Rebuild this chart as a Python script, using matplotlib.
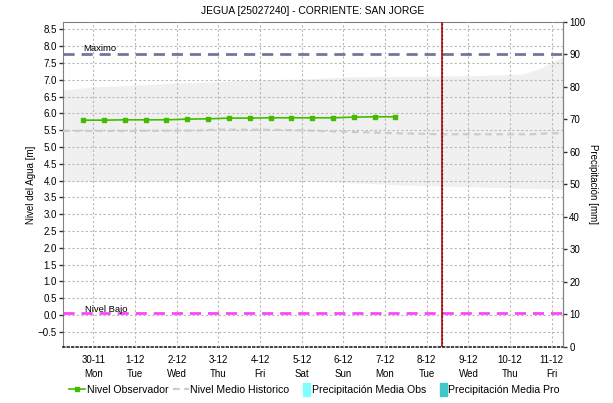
import matplotlib
matplotlib.use("Agg")
import matplotlib.pyplot as plt
import matplotlib.patches as mpatches
from matplotlib.lines import Line2D
from matplotlib.legend_handler import HandlerPatch
import numpy as np

plt.rcParams['font.family'] = ['Liberation Sans', 'DejaVu Sans']

# dias desde 30-11 (0 = 30-11)
dias = list(range(12))
fechas = ['30-11', '1-12', '2-12', '3-12', '4-12', '5-12', '6-12', '7-12', '8-12', '9-12', '10-12', '11-12']
dias_sem = ['Mon', 'Tue', 'Wed', 'Thu', 'Fri', 'Sat', 'Sun', 'Mon', 'Tue', 'Wed', 'Thu', 'Fri']

# nivel observado cada 12 horas
t_obs = [-0.25, 0.25, 0.75, 1.25, 1.75, 2.25, 2.75, 3.25, 3.75, 4.25, 4.75, 5.25, 5.75, 6.25, 6.75, 7.25]
nivel_obs = [5.80, 5.80, 5.81, 5.81, 5.81, 5.83, 5.84, 5.86, 5.86, 5.87, 5.87, 5.87, 5.87, 5.89, 5.90, 5.90]

# nivel medio historico
t_medio = [-0.73, 1.0, 2.5, 3.0, 4.5, 5.2, 6.2, 7.0, 8.3, 10.5, 11.0, 11.27]
nivel_medio = [5.48, 5.48, 5.49, 5.52, 5.51, 5.49, 5.45, 5.42, 5.38, 5.38, 5.41, 5.41]

# banda historica (minimo / maximo)
t_banda_sup = [-0.73, -0.49, 0.0, 0.64, 1.12, 2.08, 3.04, 3.59, 5.03, 6.16, 9.04, 10.31, 10.72, 11.27]
banda_sup = [6.70, 6.73, 6.79, 6.82, 6.85, 6.91, 6.94, 6.99, 7.02, 7.09, 7.12, 7.17, 7.34, 7.69]
t_banda_inf = [-0.73, 5.2, 6.57, 7.36, 9.04, 10.48, 11.27]
banda_inf = [3.98, 3.99, 3.92, 3.87, 3.82, 3.77, 3.75]

nivel_maximo = 7.77
nivel_bajo = 0.06
t_actual = 8.36

fig = plt.figure(figsize=(6.13, 4.03), dpi=100)
ax = fig.add_axes([0.1028, 0.1397, 0.8156, 0.8057])
ax.set_xlim(-0.73, 11.27)
ax.set_ylim(-0.94, 8.72)

# la banda se interpola sobre una malla comun
tt = np.union1d(t_banda_sup, t_banda_inf)
ax.fill_between(tt, np.interp(tt, t_banda_inf, banda_inf), np.interp(tt, t_banda_sup, banda_sup),
                color='#f0f0f0', lw=0, zorder=1)

ax.set_yticks(np.arange(-0.5, 8.51, 0.5))
ax.set_xticks(dias)
ax.set_xticklabels([f + '\n' + d for f, d in zip(fechas, dias_sem)])
ax.grid(True, color='#b8b8b8', linestyle=(0, (2, 2)), lw=0.8, zorder=2)
ax.set_axisbelow(False)

ax.plot(t_medio, nivel_medio, color='#cccccc', lw=1.6, linestyle=(0, (3, 2)), zorder=3)
ax.axhline(nivel_maximo, color='#6f7898', lw=2, linestyle=(0, (4, 2.5)), zorder=4)
ax.axhline(nivel_bajo, color='#ff44ff', lw=2, linestyle=(0, (4, 2.5)), zorder=4)
ax.text(-0.25, nivel_maximo + 0.02, 'Maximo', fontsize=6.8, va='bottom', ha='left', zorder=5)
ax.text(-0.2, nivel_bajo - 0.02, 'Nivel Bajo', fontsize=6.8, va='bottom', ha='left', zorder=5)
ax.plot(t_obs, nivel_obs, color='#44bb00', lw=1.2, marker='s', ms=3.2, zorder=6)
ax.axvline(t_actual, color='#cc0000', lw=1.2, zorder=7)
ax.axvline(t_actual, color='#222222', lw=0.9, linestyle=(0, (1, 2)), zorder=8)

ax.tick_params(axis='y', labelsize=7, length=3, width=1, pad=1.5, color='#333333')
ax.tick_params(axis='x', labelsize=7, length=0, pad=6)
for lbl in ax.get_xticklabels():
    lbl.set_linespacing(1.5)
for s in ['left', 'top', 'right']:
    ax.spines[s].set_color('#808080')
ax.spines['bottom'].set_linestyle(':')
ax.spines['bottom'].set_color('#222222')
ax.spines['bottom'].set_linewidth(1.2)
ax.set_ylabel('Nivel del Agua [m]', fontsize=7, labelpad=1.5)
ax.set_title('JEGUA [25027240] - CORRIENTE: SAN JORGE', fontsize=7.4, pad=6)

# eje de precipitacion
ax2 = ax.twinx()
ax2.set_ylim(0, 100)
ax2.set_yticks(range(0, 101, 10))
ax2.tick_params(axis='y', labelsize=7, length=3, width=1, pad=1.5, color='#333333')
ax2.spines['right'].set_color('#808080')
ax2.spines['left'].set_visible(False)
ax2.spines['top'].set_visible(False)
ax2.spines['bottom'].set_visible(False)
ax2.set_ylabel('Precipitación [mm]', fontsize=7, rotation=270, labelpad=9)


def barra_estrecha(legend, orig_handle, xdescent, ydescent, width, height, fontsize):
    return mpatches.Rectangle((width - 5 - xdescent, -ydescent - 2), 5, height + 4)


handles = [
    Line2D([], [], color='#44bb00', lw=1.2, marker='s', ms=3),
    Line2D([], [], color='#cccccc', lw=1.6, linestyle=(0, (3, 2))),
    mpatches.Patch(color='#80ffff'),
    mpatches.Patch(color='#40c8c8'),
]
labels = ['Nivel Observador', 'Nivel Medio Historico', 'Precipitación Media Obs', 'Precipitación Media Pro']
fig.legend(handles, labels, loc='center', bbox_to_anchor=(0.513, 0.032), ncol=4, frameon=False,
           fontsize=7.6, handlelength=1.5, handletextpad=0.15, columnspacing=0.45,
           handler_map={mpatches.Patch: HandlerPatch(patch_func=barra_estrecha)})

fig.savefig('out.png', dpi=100)
